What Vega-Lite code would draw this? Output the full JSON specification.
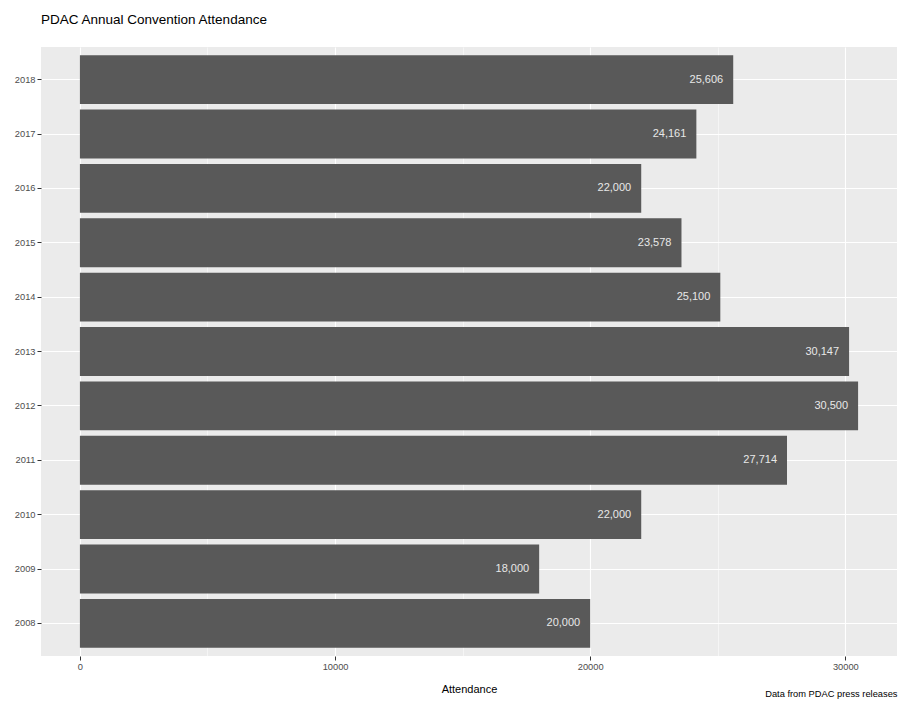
{
  "$schema": "https://vega.github.io/schema/vega-lite/v6.json",
  "width": 856,
  "height": 609,
  "autosize": {"type": "none"},
  "padding": {"left": 41, "top": 47, "right": 3, "bottom": 57},
  "background": "white",
  "title": {
    "text": "PDAC Annual Convention Attendance",
    "anchor": "start",
    "frame": "group",
    "font": "Liberation Sans",
    "fontSize": 13.5,
    "fontWeight": "normal",
    "color": "#000000",
    "offset": 21
  },
  "data": {
    "values": [
      {"year": "2008", "attendance": 20000, "label": "20,000"},
      {"year": "2009", "attendance": 18000, "label": "18,000"},
      {"year": "2010", "attendance": 22000, "label": "22,000"},
      {"year": "2011", "attendance": 27714, "label": "27,714"},
      {"year": "2012", "attendance": 30500, "label": "30,500"},
      {"year": "2013", "attendance": 30147, "label": "30,147"},
      {"year": "2014", "attendance": 25100, "label": "25,100"},
      {"year": "2015", "attendance": 23578, "label": "23,578"},
      {"year": "2016", "attendance": 22000, "label": "22,000"},
      {"year": "2017", "attendance": 24161, "label": "24,161"},
      {"year": "2018", "attendance": 25606, "label": "25,606"}
    ]
  },
  "layer": [
    {
      "mark": {"type": "bar", "color": "#595959"},
      "encoding": {
        "y": {
          "field": "year",
          "type": "ordinal",
          "sort": "descending",
          "scale": {"paddingInner": 0.1, "paddingOuter": 0.15},
          "axis": {
            "orient": "left",
            "title": null,
            "grid": true,
            "gridColor": "#FFFFFF",
            "gridWidth": 1.1,
            "bandPosition": 0.5,
            "ticks": true,
            "tickColor": "#333333",
            "tickSize": 4,
            "tickWidth": 1,
            "labelPadding": 2,
            "labelFont": "Liberation Sans",
            "labelFontSize": 9.3,
            "labelColor": "#4D4D4D",
            "domain": false
          }
        },
        "x": {
          "field": "attendance",
          "type": "quantitative",
          "scale": {"domain": [-1525, 32025], "nice": false, "zero": false},
          "axis": {
            "orient": "bottom",
            "values": [0, 10000, 20000, 30000],
            "format": "d",
            "title": "Attendance",
            "titleFont": "Liberation Sans",
            "titleFontSize": 11,
            "titleFontWeight": "normal",
            "titleColor": "#000000",
            "titlePadding": 12,
            "grid": true,
            "gridColor": "#FFFFFF",
            "gridWidth": 1.1,
            "ticks": true,
            "tickColor": "#333333",
            "tickSize": 4,
            "tickWidth": 1,
            "labelPadding": 2,
            "labelFont": "Liberation Sans",
            "labelFontSize": 9.3,
            "labelColor": "#4D4D4D",
            "domain": false
          }
        }
      }
    },
    {
      "mark": {
        "type": "text",
        "align": "right",
        "baseline": "middle",
        "dx": -10,
        "font": "Liberation Sans",
        "fontSize": 11,
        "color": "#E8E8E8"
      },
      "encoding": {
        "y": {
          "field": "year",
          "type": "ordinal",
          "sort": "descending",
          "axis": {
            "orient": "right",
            "labels": false,
            "ticks": false,
            "domain": false,
            "grid": false,
            "title": "Data from PDAC press releases",
            "titleAngle": 0,
            "titleAlign": "right",
            "titleBaseline": "middle",
            "titleX": 0,
            "titleY": 646,
            "titleFont": "Liberation Sans",
            "titleFontSize": 9.3,
            "titleFontWeight": "normal",
            "titleColor": "#000000"
          }
        },
        "x": {
          "field": "attendance",
          "type": "quantitative",
          "axis": {
            "orient": "top",
            "values": [5000, 15000, 25000],
            "labels": false,
            "ticks": false,
            "domain": false,
            "title": null,
            "grid": true,
            "gridColor": "#FFFFFF",
            "gridWidth": 0.5
          }
        },
        "text": {"field": "label"}
      }
    }
  ],
  "resolve": {"axis": {"x": "independent", "y": "independent"}},
  "config": {
    "view": {"fill": "#EBEBEB", "stroke": null}
  }
}
